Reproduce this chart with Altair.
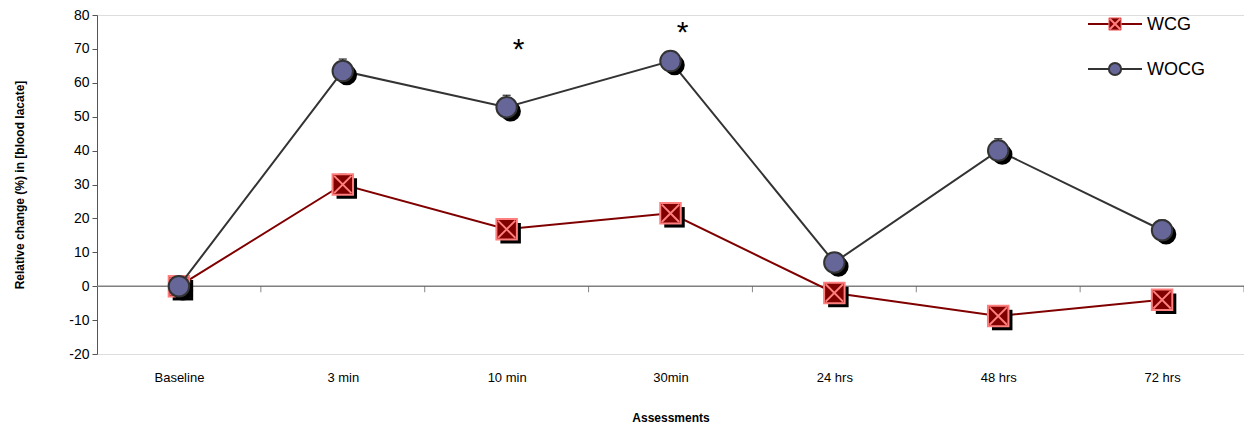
import altair as alt
import pandas as pd

categories = ["Baseline", "3 min", "10 min", "30min", "24 hrs", "48 hrs", "72 hrs"]
wcg = [0, 30, 16.8, 21.5, -2, -8.8, -4]
wcg_err = [1.0, 3.0, 2.0, 2.0, 1.5, 1.5, 1.5]
wocg = [0, 63.5, 52.8, 66.4, 7, 40, 16.5]
wocg_err = [1.0, 3.5, 3.5, 2.0, 2.5, 3.5, 3.0]
star_cats = ["10 min", "30min"]
star_vals = [71, 76]

rows = []
for i, c in enumerate(categories):
    rows.append({"idx": i, "cat": c, "group": "WCG", "v": wcg[i], "hi": wcg[i] + wcg_err[i]})
    rows.append({"idx": i, "cat": c, "group": "WOCG", "v": wocg[i], "hi": wocg[i] + wocg_err[i]})
df = pd.DataFrame(rows)
d_wcg = df[df.group == "WCG"]
d_wocg = df[df.group == "WOCG"]

stars = pd.DataFrame({"idx": [categories.index(c) for c in star_cats], "v": star_vals})
bounds = pd.DataFrame({"idx": [i + 0.5 for i in range(len(categories))], "v": 0})

FONT = "Liberation Sans"
label_expr = "[" + ",".join("'" + c + "'" for c in categories) + "][datum.value]"

xs = alt.Scale(domain=[-0.5, 6.5], nice=False, zero=False)
ys = alt.Scale(domain=[-20, 80], nice=False, zero=False)

AX_X = alt.Axis(
    values=list(range(len(categories))), labelExpr=label_expr, title="Assessments",
    domain=False, ticks=False, grid=False, labelPadding=17, labelFontSize=13,
    labelFont=FONT, labelColor="#000", titleFont=FONT, titleFontSize=12,
    titleFontWeight="bold", titlePadding=28, titleColor="#000")
AX_Y = alt.Axis(
    values=list(range(-20, 81, 10)), labelExpr="datum.value", title="Relative change (%) in [blood lacate]",
    grid=False, domainColor="#555", tickColor="#555", tickSize=5, labelFontSize=14,
    labelFont=FONT, labelColor="#000", labelPadding=3, titleFont=FONT, titleFontSize=12,
    titleFontWeight="bold", titlePadding=42, titleColor="#000", labelOverlap=False)


def X(f="idx"):
    return alt.X(f + ":Q", scale=xs, axis=AX_X)


def Y(f="v"):
    return alt.Y(f + ":Q", scale=ys, axis=AX_Y)


zero_rule = alt.Chart(bounds.head(1)).mark_rule(color="#808080", strokeWidth=1.5).encode(
    y=Y(), x=alt.value(0), x2=alt.value(1147))
bticks = alt.Chart(bounds).mark_tick(orient="vertical", color="#555", size=6, thickness=1, yOffset=3).encode(
    x=X(), y=Y())


def series(d, color, shape, fill, stroke):
    line = alt.Chart(d).mark_line(color=color, strokeWidth=2).encode(x=X(), y=Y())
    err = alt.Chart(d).mark_rule(color="#000", strokeWidth=1).encode(x=X(), y=Y(), y2="hi:Q")
    cap = alt.Chart(d).mark_tick(orient="horizontal", color="#000", size=8, thickness=1.5).encode(
        x=X(), y=Y("hi"))
    shadow = alt.Chart(d).mark_point(shape=shape, filled=True, color="#000", size=420,
                                     opacity=1, xOffset=4, yOffset=4).encode(x=X(), y=Y())
    pt = alt.Chart(d).mark_point(shape=shape, filled=True, fill=fill, stroke=stroke, strokeWidth=2,
                                 size=420, opacity=1).encode(x=X(), y=Y())
    return [line, err, cap, shadow, pt]


wcg_layers = series(d_wcg, "#800000", "square", "#800000", "#ff7f7f")
xmark = alt.Chart(d_wcg).mark_point(shape="M-1,-1L1,1M1,-1L-1,1", filled=False, stroke="#ff7f7f",
                                    strokeWidth=2, size=300, opacity=1).encode(x=X(), y=Y())
wocg_layers = series(d_wocg, "#333333", "circle", "#666699", "#333333")

star_layer = alt.Chart(stars).mark_text(text="*", font=FONT, fontSize=30, color="#000", xOffset=12,
                                        dy=4, baseline="middle").encode(x=X(), y=Y())

one = alt.Data(values=[{}])
leg = []
for yy, name, col in [(9, "WCG", "#800000"), (54, "WOCG", "#333333")]:
    leg.append(alt.Chart(one).mark_rule(color=col, strokeWidth=2).encode(
        x=alt.value(991), x2=alt.value(1045), y=alt.value(yy)))
    leg.append(alt.Chart(one).mark_text(text=name, font=FONT, fontSize=18, color="#000", align="left",
                                        baseline="middle").encode(x=alt.value(1050), y=alt.value(yy + 1)))
leg.append(alt.Chart(one).mark_point(shape="square", filled=True, fill="#800000", stroke="#ff7f7f",
                                     strokeWidth=1, size=150, opacity=1).encode(x=alt.value(1018), y=alt.value(9)))
leg.append(alt.Chart(one).mark_point(shape="M-1,-1L1,1M1,-1L-1,1", filled=False, stroke="#ff7f7f",
                                     strokeWidth=2, size=110, opacity=1).encode(x=alt.value(1018), y=alt.value(9)))
leg.append(alt.Chart(one).mark_point(shape="circle", filled=True, fill="#666699", stroke="#333333",
                                     strokeWidth=2, size=150, opacity=1).encode(x=alt.value(1018), y=alt.value(54)))

chart = alt.layer(zero_rule, bticks, *wcg_layers, xmark, *wocg_layers, star_layer, *leg).properties(
    width=1147, height=339,
    autosize=alt.AutoSizeParams(type="none"),
    padding={"left": 89, "top": 7, "right": 0, "bottom": 72},
).configure_view(stroke=None).configure(background="white")

chart.save("out.html", embed_options={"renderer": "svg", "actions": False})
